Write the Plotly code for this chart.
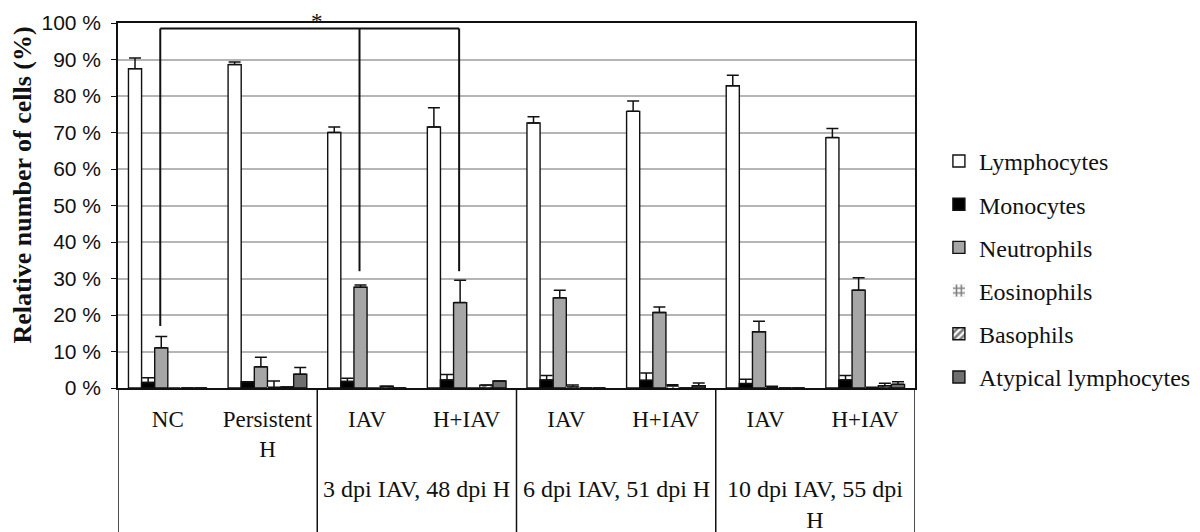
import plotly.graph_objects as go

# ---------------- data ----------------
groups = ["NC", "Persistent<br>H", "IAV", "H+IAV", "IAV", "H+IAV", "IAV", "H+IAV"]
timepoints = ["3 dpi IAV, 48 dpi H", "6 dpi IAV, 51 dpi H", "10 dpi IAV, 55 dpi<br>H"]
timepoint_members = [[2, 3], [4, 5], [6, 7]]

series_names = ["Lymphocytes", "Monocytes", "Neutrophils", "Eosinophils", "Basophils",
                "Atypical lymphocytes"]

lymphocytes = [87.5, 88.6, 70.0, 71.5, 72.6, 75.8, 82.8, 68.6]
lymphocytes_err = [2.9, 0.7, 1.5, 5.3, 1.7, 2.8, 2.9, 2.5]
monocytes = [1.5, 1.7, 1.8, 2.2, 2.2, 2.1, 1.2, 2.2]
monocytes_err = [1.3, 0.0, 0.9, 1.5, 1.2, 2.0, 1.2, 1.2]
neutrophils = [11.0, 5.8, 27.6, 23.4, 24.7, 20.7, 15.4, 26.8]
neutrophils_err = [3.1, 2.6, 0.6, 6.1, 2.1, 1.5, 2.9, 3.4]
eosinophils = [0.0, 0.2, 0.0, 0.0, 0.3, 0.6, 0.2, 0.2]
eosinophils_err = [0.0, 1.7, 0.0, 0.0, 0.5, 0.3, 0.3, 0.0]
basophils = [0.0, 0.3, 0.5, 0.8, 0.0, 0.0, 0.0, 0.6]
basophils_err = [0.0, 0.0, 0.0, 0.0, 0.0, 0.0, 0.0, 0.7]
atypical = [0.0, 3.8, 0.0, 1.9, 0.0, 0.6, 0.0, 1.0]
atypical_err = [0.0, 1.8, 0.0, 0.0, 0.0, 0.8, 0.0, 0.7]

y_ticks = [0, 10, 20, 30, 40, 50, 60, 70, 80, 90, 100]
y_tick_text = [f"{v} %" for v in y_ticks]
y_title = "Relative number of cells (%)"

# significance bracket (groups compared on neutrophils)
sig_groups = [0, 2, 3]
sig_bottoms = [17, 32, 32]
sig_top = 98.5

values = [lymphocytes, monocytes, neutrophils, eosinophils, basophils, atypical]
errors = [lymphocytes_err, monocytes_err, neutrophils_err, eosinophils_err, basophils_err,
          atypical_err]

# ---------------- styles ----------------
fills = ["#ffffff", "#000000", "#a6a6a6", "#ffffff", "#ffffff", "#6f6f6f"]
patterns = ["", "", "", "+", "/", ""]
line_w = [1.4, 1.4, 1.4, 0, 1.4, 1.4]
SERIF = "Times New Roman, Liberation Serif, serif"
SANS = "Arial, Liberation Sans, sans-serif"
BARGAP = 0.21

x_idx = list(range(len(groups)))
fig = go.Figure()
for k, name in enumerate(series_names):
    fig.add_trace(go.Bar(
        x=x_idx, y=values[k], name=name, legendgroup=name,
        marker=dict(color=fills[k], line=dict(color="#111", width=line_w[k]),
                    pattern=dict(shape=patterns[k], fgcolor="#000", bgcolor=fills[k],
                                 size=6, solidity=0.55)),
        error_y=dict(type="data", symmetric=False, array=errors[k],
                     arrayminus=[0] * len(groups), color="#111", thickness=1.5, width=6),
    ))

shapes = []
# dividers below the axis
for xv in [-0.5, 1.5, 3.5, 5.5, 7.5]:
    shapes.append(dict(type="line", xref="x", yref="paper", x0=xv, x1=xv, y0=0, y1=-0.45,
                       line=dict(color="#111", width=1.5)))

barw = (1 - BARGAP) / len(series_names)
neut_off = (2 - (len(series_names) - 1) / 2) * barw
sig_x = [g + neut_off - 0.01 for g in sig_groups]
shapes.append(dict(type="line", xref="x", yref="y", x0=sig_x[0], x1=sig_x[-1],
                   y0=sig_top, y1=sig_top, line=dict(color="#111", width=2)))
for xs, yb in zip(sig_x, sig_bottoms):
    shapes.append(dict(type="line", xref="x", yref="y", x0=xs, x1=xs, y0=yb, y1=sig_top,
                       line=dict(color="#111", width=2)))

annotations = [dict(x=(sig_x[0] + sig_x[-1]) / 2 + 0.07, y=1 + 16 / 365, xref="x",
                    yref="paper", text="*", showarrow=False, yanchor="top",
                    font=dict(family=SERIF, size=23, color="#111"))]
for label, mem in zip(timepoints, timepoint_members):
    annotations.append(dict(x=sum(mem) / len(mem), y=-0.235, xref="x", yref="paper",
                            text=label, showarrow=False, yanchor="top",
                            font=dict(family=SERIF, size=24, color="#111")))
annotations.append(dict(x=-0.121, y=0.556, xref="paper", yref="paper",
                        text=f"<b>{y_title}</b>", textangle=-90, showarrow=False,
                        xanchor="center", yanchor="middle",
                        font=dict(family=SERIF, size=26, color="#111")))

fig.update_layout(
    width=1200, height=532,
    margin=dict(l=118, r=285, t=23, b=144, autoexpand=False),
    paper_bgcolor="white", plot_bgcolor="white",
    barmode="group", bargap=BARGAP, bargroupgap=0,
    showlegend=True,
    legend=dict(x=1.03, xanchor="left", y=0.325, yanchor="middle",
                font=dict(family=SERIF, size=24, color="#111"),
                tracegroupgap=9, traceorder="grouped", itemclick=False),
    shapes=shapes, annotations=annotations,
    font=dict(family=SERIF, color="#111"),
)
fig.update_xaxes(range=[-0.5, 7.5], tickvals=x_idx, ticktext=groups,
                 tickfont=dict(family=SERIF, size=23, color="#111"),
                 ticks="", ticklabelstandoff=10, automargin=False,
                 showline=True, linecolor="#111", linewidth=1.5, mirror=True,
                 showgrid=False, zeroline=False, fixedrange=True)
fig.update_yaxes(range=[0, 100], tickvals=y_ticks, ticktext=y_tick_text,
                 tickfont=dict(family=SANS, size=21, color="#111"),
                 ticks="outside", ticklen=5, tickcolor="#111", ticklabelstandoff=6,
                 automargin=False,
                 showline=True, linecolor="#111", linewidth=1.5, mirror=True,
                 showgrid=True, gridcolor="#b5b5b5", gridwidth=1.5, zeroline=False,
                 fixedrange=True)

fig.write_html("out.html")
